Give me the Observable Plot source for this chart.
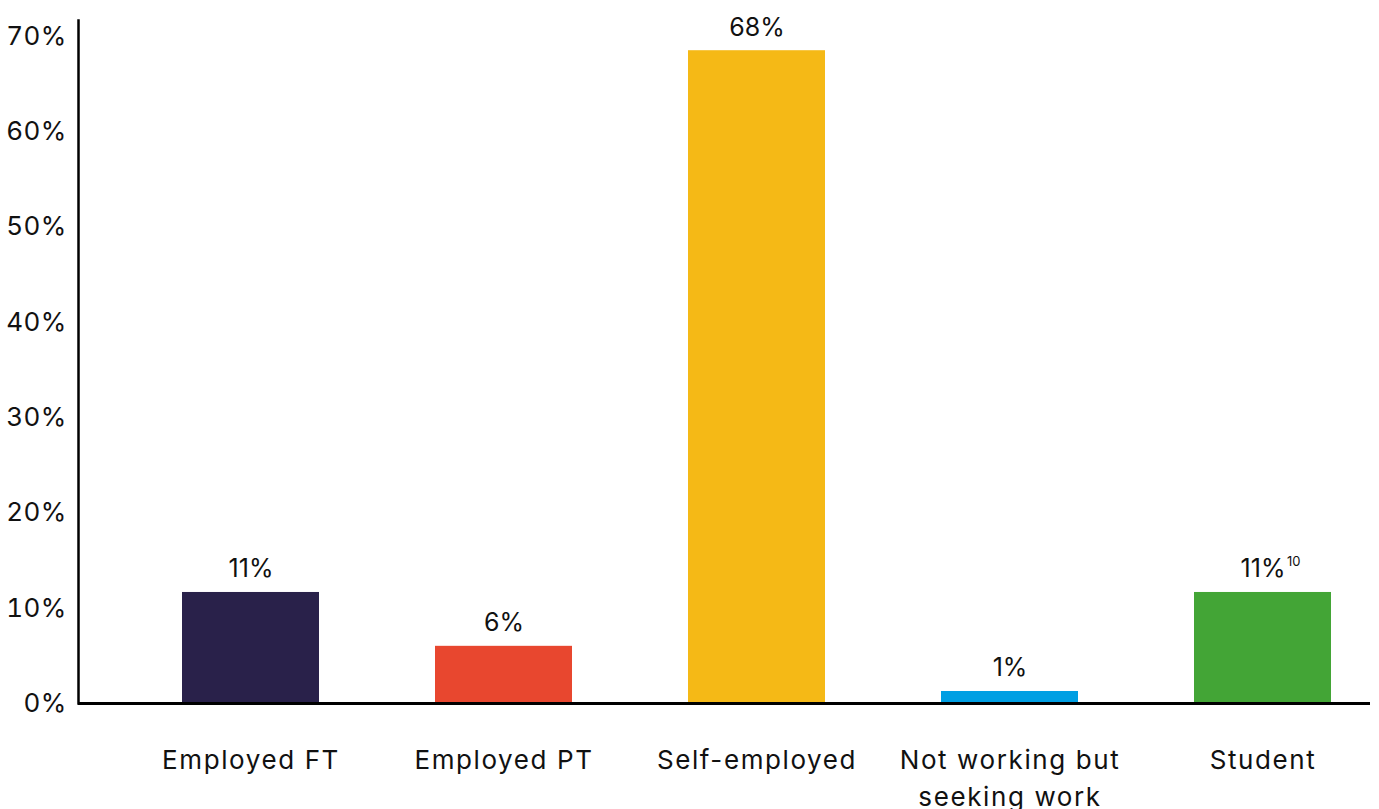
<!DOCTYPE html>
<html>
<head>
<meta charset="utf-8">
<script src="https://cdn.jsdelivr.net/npm/d3@7"></script>
<script src="https://cdn.jsdelivr.net/npm/@observablehq/plot@0.6"></script>
<style>
  html, body { margin: 0; padding: 0; background: #fff; }
  #chart { width: 1379px; height: 809px; overflow: hidden; }
  svg { font-family: Inter, "Open Sans", sans-serif; }
  g[aria-label="x-axis tick label"] text { letter-spacing: 1.6px; }
  g[aria-label="y-axis tick label"] text { letter-spacing: 0.3px; }
</style>
</head>
<body>
<div id="chart"></div>
<script>
const categories = ["Employed FT", "Employed PT", "Self-employed", "Not working but\nseeking work", "Student"];
const values = [11.65, 6.0, 68.5, 1.26, 11.65];
const valueLabels = ["11%", "6%", "68%", "1%", "11%"];
const footnotes = ["", "", "", "", "10"];
const colors = ["#29214a", "#e8472f", "#f5b916", "#009fe3", "#43a536"];
const yTicks = [0, 10, 20, 30, 40, 50, 60, 70];

const data = categories.map((c, i) => ({
  cat: c, value: values[i], label: valueLabels[i], note: footnotes[i], color: colors[i]
}));

const chart = Plot.plot({
  width: 1379,
  height: 809,
  marginTop: 20,
  marginBottom: 106,
  marginLeft: 78,
  marginRight: 9,
  style: { fontFamily: "Inter, 'Open Sans', sans-serif", color: "#111", background: "#fff" },
  x: { domain: categories, range: [181, 1331], paddingInner: 0.459, paddingOuter: 0, label: null },
  y: { domain: [0, 71.67], label: null },
  marks: [
    Plot.barY(data, { x: "cat", y: "value", fill: "color" }),
    Plot.frame({ anchor: "left", stroke: "#000", strokeWidth: 2.5 }),
    Plot.ruleY([0], { stroke: "#000", strokeWidth: 3 }),
    Plot.axisY({ ticks: yTicks, tickSize: 0, tickPadding: 12, fontSize: 26, tickFormat: d => d + "%", label: null }),
    Plot.axisX({ tickSize: 0, tickPadding: 39, fontSize: 26, lineHeight: 1.42, label: null }),
    Plot.text(data, { x: "cat", y: "value", text: "label", lineAnchor: "bottom", dy: -15, fontSize: 25, fill: "#111" }),
    Plot.text(data, { x: "cat", y: "value", text: "note", lineAnchor: "bottom", textAnchor: "start", dx: 24, dy: -26, fontSize: 13, fill: "#111" })
  ]
});
document.getElementById("chart").appendChild(chart);
</script>
</body>
</html>
